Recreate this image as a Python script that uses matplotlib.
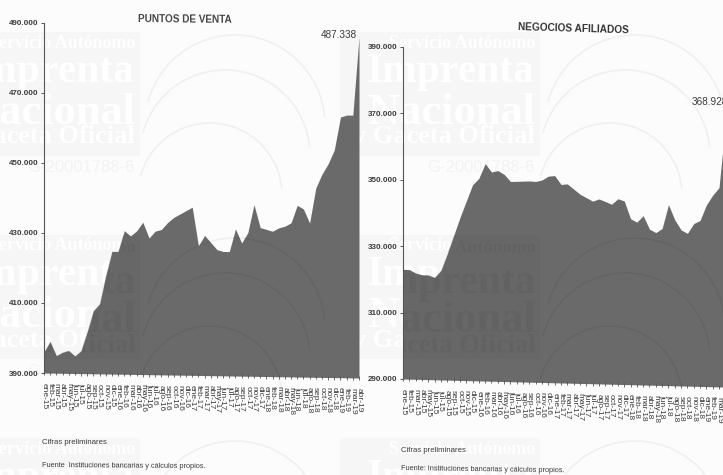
import matplotlib
matplotlib.use('Agg')
import matplotlib.pyplot as plt
from matplotlib.font_manager import FontProperties
from matplotlib.patches import Arc, PathPatch, Rectangle
from matplotlib.textpath import TextPath
from matplotlib.transforms import Affine2D

plt.rcParams['font.family'] = ['Liberation Sans', 'DejaVu Sans']

W, H = 723, 475
BG = '#fcfcfc'
FILL = '#6a6a6a'
TXT = '#3c3c3c'

months = ['ene', 'feb', 'mar', 'abr', 'may', 'jun', 'jul', 'ago', 'sep', 'oct', 'nov', 'dic']
x_labels = [f'{months[i % 12]}-{15 + i // 12}' for i in range(52)]

puntos_venta = [396.0, 399.0, 395.0, 396.0, 396.5, 395.0, 396.5, 402.0, 408.0, 410.0,
                418.0, 425.0, 425.0, 431.0, 429.5, 431.0, 433.5, 429.0, 431.0, 431.5,
                433.5, 435.0, 436.0, 437.0, 438.0, 427.0, 430.0, 428.0, 426.0, 425.5,
                425.5, 432.0, 428.0, 431.0, 439.0, 432.5, 432.0, 431.5, 432.5, 433.0,
                434.0, 439.0, 438.0, 434.0, 444.0, 448.0, 451.0, 455.0, 464.4, 465.0,
                465.0, 487.338]
negocios = [323.0, 323.0, 322.0, 321.5, 321.5, 320.8, 323.0, 328.0, 333.5, 339.0,
            344.0, 349.0, 351.0, 355.5, 353.0, 353.5, 352.4, 350.3, 350.4, 350.5,
            350.6, 350.5, 351.0, 352.2, 352.4, 349.8, 350.0, 348.5, 347.0, 346.0,
            345.0, 345.7, 345.0, 344.2, 345.9, 345.3, 340.0, 339.0, 341.0, 337.0,
            336.0, 337.3, 344.5, 340.0, 337.0, 336.0, 339.0, 340.0, 344.7, 347.7,
            350.0, 368.928]

pv_ticks = [390, 410, 430, 450, 470, 490]
neg_ticks = [290, 310, 330, 350, 370, 390]

wm_lines = [('Servicio Autónomo', 43, 13), ('Imprenta', 72, 30),
            ('Nacional', 113, 32), ('y Gaceta Oficial', 137, 19)]
wm_font = FontProperties(family='Liberation Serif', weight='bold')


def make_axes(left, right, top, bottom):
    # positions given in pixels from the top left corner of the picture
    return fig.add_axes([left / W, 1 - bottom / H, (right - left) / W, (bottom - top) / H],
                        facecolor='none')


def pixel_axes():
    ax = make_axes(0, W, 0, H)
    ax.set_xlim(0, W)
    ax.set_ylim(H, 0)
    ax.axis('off')
    return ax


def draw_panel(ax, values, ticks, slope, x_end):
    ax.set_xlim(0, x_end)
    ax.set_ylim(ticks[0], ticks[-1])
    for side in ['top', 'right', 'bottom']:
        ax.spines[side].set_visible(False)
    ax.spines['left'].set_color('#555555')
    ax.spines['left'].set_linewidth(0.8)
    ax.set_xticks([])
    ax.set_yticks(ticks)
    ax.set_yticklabels([f'{t}.000' for t in ticks], fontsize=5.8, color=TXT, weight='bold')
    ax.tick_params(axis='y', length=2.5, width=0.7, color='#555555', pad=1.5)

    # the scan is a little crooked, so the plot sinks towards the right
    x0 = ax.transAxes.transform((0, 0))[0]
    shear = Affine2D.from_values(1, -slope, 0, 1, 0, slope * x0)
    trans = ax.transData + shear

    x = list(range(len(values)))
    poly = ax.fill_between(x, values, ticks[0], color=FILL, lw=0, transform=trans, clip_on=False)
    ax.plot(x, [ticks[0]] * len(x), ls='none', marker='|', ms=2.5, mew=0.6, color='#555555',
            transform=trans, clip_on=False)
    for i, lab in enumerate(x_labels):
        ax.annotate(lab, (i, ticks[0]), xycoords=trans, xytext=(0, -7), textcoords='offset points',
                    rotation=270, ha='center', va='top', fontsize=6, color=TXT,
                    annotation_clip=False)
    return poly


def draw_emblem(ax, tile_x, dy, alpha):
    arcs = []
    for off, cy, r in [(95, 125, 90), (85, 155, 85), (70, 195, 72)]:
        arcs.append(ax.add_patch(Arc((tile_x + off, cy + dy), r * 2, r * 2, theta1=195, theta2=355,
                                     ec='#efefef' if alpha > 0.5 else '#333333', lw=1.2,
                                     alpha=alpha)))
    return arcs


def watermark_under(ax):
    for tile_x in [140, 540]:
        for row in range(3):
            dy = row * 203
            ax.add_patch(Rectangle((tile_x - 200, 32 + dy), 200, 124, fc='#f6f6f6', lw=0))
            for txt, y, size in wm_lines:
                ax.text(tile_x - 5, y + dy, txt, ha='right', va='center', fontsize=size,
                        family='Liberation Serif', weight='bold', color='white')
            ax.text(tile_x - 5, 168 + dy, 'G-20001788-6', ha='right', va='center', fontsize=12,
                    color='#f3f3f3')
            draw_emblem(ax, tile_x, dy, 0.9)


def watermark_over(ax, clips):
    # Agg ignores clip paths on text, so inside the fill the letters are drawn as outlines
    for tile_x, clip in zip([140, 540], clips):
        clip_path = clip.get_paths()[0]
        clip_trans = clip.get_transform()
        for row in range(3):
            dy = row * 203
            items = [ax.add_patch(Rectangle((tile_x - 200, 32 + dy), 200, 124, fc='#555555',
                                            alpha=0.1, lw=0))]
            for txt, y, size in wm_lines:
                tp = TextPath((0, 0), txt, size=size * 100 / 72, prop=wm_font)
                ext = tp.get_extents()
                place = Affine2D().scale(1, -1).translate(tile_x - 5 - ext.x1, y + dy + ext.height / 2)
                items.append(ax.add_patch(PathPatch(tp, fc='#333333', lw=0, alpha=0.09,
                                                    transform=place + ax.transData)))
            items += draw_emblem(ax, tile_x, dy, 0.1)
            for a in items:
                a.set_clip_on(True)
                a.set_clip_path(clip_path, clip_trans)


fig = plt.figure(figsize=(W / 100, H / 100), dpi=100, facecolor=BG)

bg_ax = pixel_axes()
watermark_under(bg_ax)

ax1 = make_axes(44, 359, 22.7, 373)
ax2 = make_axes(403, 403 + 6.32 * 51, 47, 379)
poly1 = draw_panel(ax1, puntos_venta, pv_ticks, 5 / 315, 51)
poly2 = draw_panel(ax2, negocios, neg_ticks, 8 / 320, 51)

over_ax = pixel_axes()
watermark_over(over_ax, [poly1, poly2])

fig.text(185 / W, 1 - 19 / H, 'PUNTOS DE VENTA', ha='center', va='center', fontsize=7.2,
         weight='bold', color='#444444', rotation=-0.5)
fig.text(573 / W, 1 - 29 / H, 'NEGOCIOS AFILIADOS', ha='center', va='center', fontsize=7.3,
         weight='bold', color='#333333', rotation=-1.7)
fig.text(357 / W, 1 - 35 / H, '487.338', ha='right', va='center', fontsize=7.2, color=TXT)
fig.text(692 / W, 1 - 102 / H, '368.928', ha='left', va='center', fontsize=7.2, color=TXT)

fig.text(42 / W, 1 - 443 / H, 'Cifras preliminares', ha='left', va='center', fontsize=5.6, color=TXT)
fig.text(42 / W, 1 - 466 / H, 'Fuente  Instituciones bancarias y cálculos propios.', ha='left',
         va='center', fontsize=5.3, color=TXT, rotation=-0.4)
fig.text(401 / W, 1 - 450 / H, 'Cifras preliminares', ha='left', va='center', fontsize=5.6, color=TXT)
fig.text(401 / W, 1 - 470 / H, 'Fuente: Instituciones bancarias y cálculos propios.', ha='left',
         va='center', fontsize=5.3, color=TXT, rotation=-0.8)

fig.savefig('out.png', dpi=100, facecolor=BG)
